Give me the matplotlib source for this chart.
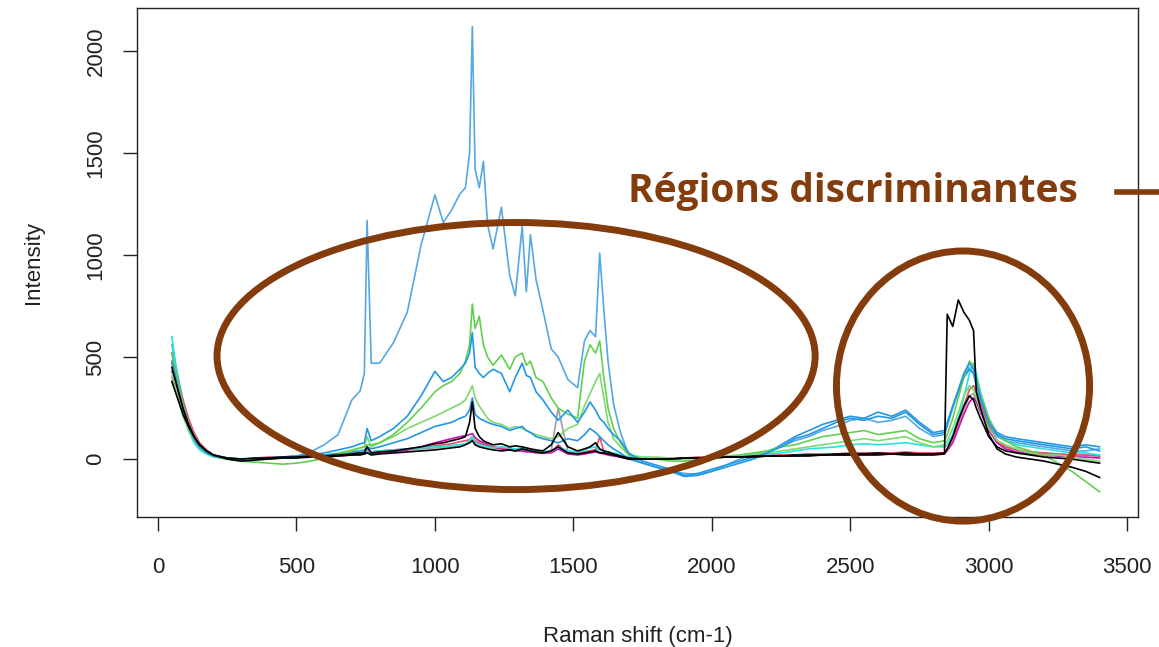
import matplotlib.pyplot as plt
from matplotlib.patches import Ellipse

# --- Raman shift grid (cm-1), shared by all spectra ---
shift = [50, 70, 90, 110, 130, 150, 175, 200, 250, 300,
         350, 400, 450, 500, 550, 600, 650, 700, 730, 745,
         755, 770, 800, 850, 900, 950, 1000, 1030, 1060, 1090,
         1110, 1125, 1135, 1145, 1160, 1175, 1190, 1210, 1240, 1270,
         1290, 1315, 1330, 1345, 1365, 1390, 1420, 1445, 1480, 1515,
         1540, 1560, 1580, 1595, 1610, 1625, 1645, 1670, 1700, 1750,
         1800, 1850, 1900, 1950, 2000, 2050, 2100, 2150, 2200, 2250,
         2300, 2350, 2400, 2450, 2500, 2550, 2600, 2650, 2700, 2750,
         2800, 2840, 2850, 2870, 2890, 2910, 2930, 2945, 2955, 2970,
         3000, 3030, 3060, 3100, 3150, 3200, 3250, 3300, 3350, 3400]

# --- intensities ---
tall_blue = [560, 420, 290, 190, 120, 70, 40, 20, 5, 0,
             0, 5, 10, 15, 35, 70, 120, 290, 335, 420,
             1170, 470, 470, 570, 720, 1050, 1295, 1160, 1220, 1300,
             1330, 1500, 2120, 1420, 1330, 1460, 1150, 1030, 1235, 900,
             800, 1140, 820, 1100, 880, 730, 540, 500, 390, 350,
             580, 630, 600, 1010, 730, 480, 270, 130, 20, -20,
             -40, -60, -70, -75, -60, -30, 0, 20, 40, 60,
             90, 110, 140, 160, 190, 200, 180, 190, 210, 150,
             110, 120, 160, 250, 330, 400, 450, 420, 360, 280,
             170, 110, 90, 80, 70, 60, 50, 40, 40, 50]

blue_mid = [480, 360, 250, 160, 100, 60, 30, 15, 5, 0,
            0, 5, 10, 15, 20, 30, 45, 60, 75, 80,
            150, 90, 110, 150, 210, 310, 430, 380, 400, 440,
            470, 520, 620, 450, 420, 400, 420, 440, 420, 330,
            400, 470, 410, 400, 330, 290, 230, 190, 240, 180,
            230, 280, 240, 200, 180, 150, 120, 90, 30, -10,
            -30, -50, -80, -70, -50, -30, -10, 10, 30, 60,
            100, 120, 150, 180, 200, 190, 210, 200, 230, 170,
            120, 130, 170, 260, 340, 420, 470, 440, 380, 300,
            180, 120, 100, 90, 80, 70, 60, 50, 60, 40]

green_high = [520, 390, 270, 170, 110, 65, 35, 15, 0, -10,
              -15, -20, -25, -20, -10, 5, 20, 40, 55, 60,
              70, 70, 80, 120, 180, 250, 330, 360, 380, 420,
              480, 560, 760, 640, 700, 560, 500, 460, 510, 440,
              500, 520, 460, 480, 400, 380, 300, 250, 220, 200,
              480, 560, 520, 580, 400, 250, 150, 80, 20, 0,
              0, -10, -10, -5, 0, 10, 20, 30, 40, 60,
              70, 90, 110, 120, 130, 140, 120, 130, 140, 100,
              80, 90, 120, 200, 300, 400, 480, 460, 400, 320,
              200, 120, 90, 60, 40, 20, -20, -60, -110, -160]

green_low = [420, 310, 210, 140, 90, 55, 30, 15, 5, 0,
             0, 0, 5, 10, 15, 20, 30, 45, 55, 60,
             110, 60, 80, 110, 150, 180, 210, 230, 250, 270,
             290, 330, 360, 300, 260, 230, 200, 180, 170, 150,
             160, 150, 140, 130, 120, 110, 100, 110, 150, 170,
             260, 320, 380, 420, 300, 180, 100, 60, 20, 10,
             10, 5, 0, 5, 10, 15, 20, 25, 30, 40,
             50, 60, 70, 80, 90, 100, 90, 100, 110, 80,
             60, 70, 90, 150, 230, 310, 360, 340, 300, 240,
             150, 90, 70, 50, 30, 20, 20, 10, 0, -10]

cyan = [600, 400, 240, 140, 80, 45, 25, 10, 0, -5,
        0, 5, 5, 10, 10, 15, 20, 25, 30, 35,
        40, 35, 40, 45, 50, 55, 60, 60, 65, 70,
        75, 90, 110, 80, 70, 65, 60, 55, 60, 55,
        50, 55, 50, 45, 40, 35, 40, 60, 40, 35,
        45, 55, 60, 45, 40, 35, 30, 20, 10, 5,
        0, 0, 0, 5, 5, 10, 15, 20, 25, 30,
        40, 50, 55, 60, 70, 75, 70, 75, 80, 70,
        60, 60, 70, 120, 200, 300, 420, 470, 420, 330,
        200, 120, 90, 70, 60, 50, 40, 30, 30, 20]

black_ch = [380, 300, 220, 160, 110, 70, 40, 20, 0, -10,
            -5, 0, 5, 5, 10, 10, 15, 20, 20, 25,
            30, 20, 25, 30, 35, 40, 45, 50, 55, 60,
            70, 80, 90, 70, 60, 55, 50, 45, 40, 45,
            40, 50, 45, 40, 35, 30, 40, 60, 30, 25,
            30, 35, 40, 30, 30, 25, 20, 10, 0, 0,
            0, 0, 5, 5, 5, 10, 10, 10, 15, 15,
            15, 15, 20, 20, 20, 20, 20, 25, 20, 20,
            20, 25, 710, 650, 780, 720, 680, 630, 330, 250,
            120, 50, 25, 10, 0, -10, -25, -40, -60, -90]

black_low = [450, 350, 250, 170, 110, 70, 40, 20, 5, 0,
             5, 5, 10, 10, 15, 15, 20, 25, 30, 30,
             60, 30, 35, 40, 50, 60, 75, 80, 90, 100,
             110, 180, 280, 150, 110, 90, 80, 70, 75, 60,
             65, 60, 55, 50, 45, 40, 70, 130, 60, 40,
             50, 60, 80, 50, 40, 35, 25, 15, 5, 0,
             0, 0, 5, 5, 10, 10, 10, 15, 15, 15,
             20, 20, 20, 25, 25, 25, 30, 25, 30, 25,
             25, 30, 50, 110, 190, 260, 310, 290, 250, 200,
             110, 60, 40, 30, 20, 10, 5, 0, -10, -20]

pink = [470, 380, 290, 200, 130, 80, 45, 20, 5, 0,
        5, 10, 10, 15, 20, 20, 25, 30, 30, 35,
        45, 35, 40, 45, 50, 55, 65, 70, 75, 85,
        90, 95, 110, 90, 80, 70, 65, 60, 55, 50,
        45, 50, 45, 40, 35, 30, 35, 70, 30, 25,
        35, 40, 45, 110, 35, 30, 25, 15, 5, 0,
        0, 5, 5, 10, 10, 10, 15, 15, 20, 20,
        20, 25, 25, 25, 30, 30, 30, 30, 35, 30,
        30, 30, 45, 100, 180, 260, 340, 360, 330, 270,
        160, 90, 60, 45, 35, 30, 25, 20, 20, 15]

magenta = [430, 340, 250, 170, 110, 65, 35, 15, 5, 0,
           0, 5, 5, 10, 10, 15, 15, 20, 25, 25,
           35, 25, 30, 35, 45, 60, 80, 90, 100, 110,
           115, 120, 125, 105, 90, 80, 70, 60, 50, 45,
           40, 40, 35, 35, 30, 30, 30, 50, 25, 20,
           25, 30, 35, 30, 25, 20, 15, 10, 0, 0,
           0, 0, 5, 5, 5, 10, 10, 10, 15, 15,
           15, 20, 20, 20, 20, 25, 25, 25, 25, 25,
           25, 25, 40, 80, 150, 220, 280, 300, 280, 230,
           140, 80, 50, 35, 25, 20, 15, 10, 10, 5]

gray = [400, 310, 220, 150, 95, 55, 30, 15, 5, 0,
        0, 5, 5, 10, 10, 15, 20, 25, 25, 30,
        40, 30, 35, 40, 45, 50, 55, 60, 65, 70,
        75, 85, 100, 80, 70, 65, 60, 55, 50, 45,
        45, 45, 40, 40, 35, 35, 40, 250, 35, 30,
        35, 40, 45, 35, 30, 25, 20, 10, 5, 0,
        0, 5, 5, 5, 10, 10, 15, 15, 15, 20,
        20, 25, 25, 25, 30, 30, 30, 30, 30, 30,
        30, 30, 45, 100, 170, 240, 310, 320, 290, 240,
        150, 90, 60, 45, 35, 30, 25, 20, 20, 15]

blue_hump = [520, 380, 250, 160, 100, 60, 35, 15, 5, 0,
             0, 5, 10, 10, 15, 20, 25, 35, 40, 45,
             60, 50, 60, 80, 100, 130, 160, 170, 180, 200,
             210, 240, 300, 220, 200, 190, 180, 170, 160, 140,
             150, 160, 140, 130, 110, 100, 90, 80, 100, 90,
             120, 150, 130, 110, 90, 70, 50, 30, 0, -20,
             -40, -60, -85, -80, -60, -40, -20, 0, 30, 70,
             110, 140, 170, 190, 210, 200, 230, 210, 240, 180,
             130, 140, 180, 260, 330, 400, 440, 420, 370, 300,
             190, 130, 110, 100, 90, 80, 70, 60, 70, 60]

# drawing order: first drawn ends up underneath
spectra = [
    (tall_blue, "#55A8E3"),
    (gray, "#9E9E9E"),
    (magenta, "#CD0BBC"),
    (pink, "#DF536B"),
    (cyan, "#28E2E5"),
    (green_low, "#7ED96F"),
    (blue_hump, "#2297E6"),
    (green_high, "#61D04F"),
    (blue_mid, "#2297E6"),
    (black_low, "#000000"),
    (black_ch, "#000000"),
]

plt.rcParams["font.family"] = ["Liberation Sans", "DejaVu Sans"]

fig = plt.figure(figsize=(11.59, 6.47), dpi=100)
ax = fig.add_axes([0.1182, 0.2009, 0.8637, 0.7867])

for values, color in spectra:
    ax.plot(shift, values, color=color, lw=1.2)

ax.set_xlim(-76, 3539)
ax.set_ylim(-284, 2211)
ax.set_xticks(range(0, 3501, 500))
ax.set_yticks(range(0, 2001, 500))
ax.tick_params(direction="out", length=10, width=1, labelsize=16,
               colors="#222222")
ax.tick_params(axis="x", pad=19)
ax.tick_params(axis="y", pad=12)
plt.setp(ax.get_yticklabels(), rotation=90, va="center")
for s in ax.spines.values():
    s.set_linewidth(1.0)
    s.set_color("#222222")

ax.set_xlabel("Raman shift (cm-1)", fontsize=16, color="#222222", labelpad=34)
ax.set_ylabel("Intensity", fontsize=16, color="#222222", labelpad=30)

# --- annotations ---
brown = "#843C0C"
ax.add_patch(Ellipse((1293, 505), 2160, 1309, fill=False, ec=brown,
                     lw=5, clip_on=False, zorder=5))
ax.add_patch(Ellipse((2907, 358), 914, 1324, fill=False, ec=brown,
                     lw=5, clip_on=False, zorder=5))

fig.text(628 / 1159, 1 - 192 / 647, "Régions discriminantes",
         family=["Open Sans", "DejaVu Sans"], fontweight="bold", fontsize=28,
         color=brown, ha="left", va="center")
fig.add_artist(plt.Line2D([1117 / 1159, 1.0], [1 - 192 / 647, 1 - 192 / 647],
                          transform=fig.transFigure, color=brown, lw=4))

fig.savefig("out.png", dpi=100)
